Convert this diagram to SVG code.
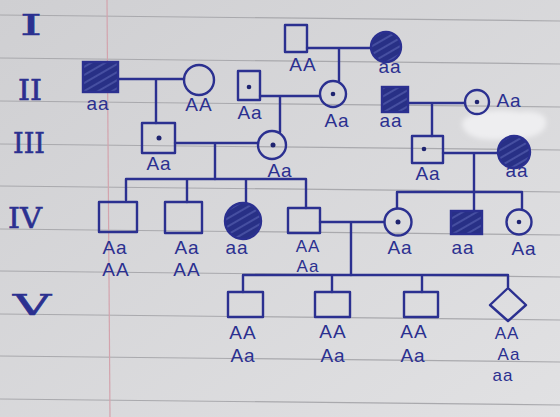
<svg xmlns="http://www.w3.org/2000/svg" width="560" height="417" viewBox="0 0 560 417">
<defs>
<linearGradient id="paper" x1="0" y1="0" x2="1" y2="1">
<stop offset="0" stop-color="#cfcfd2"/>
<stop offset="1" stop-color="#e1e1e3"/>
</linearGradient>
<pattern id="hatch" patternUnits="userSpaceOnUse" width="7" height="7" patternTransform="rotate(-30)">
<rect width="7" height="7" fill="#283086"/>
<line x1="0" y1="2" x2="7" y2="2" stroke="#5a63b4" stroke-width="1.2"/>
</pattern>
<filter id="soft" x="-20%" y="-40%" width="140%" height="180%"><feGaussianBlur stdDeviation="2.5"/></filter>
<style>
.rule{stroke:#a9a9ad;stroke-width:1.2}
.margin{stroke:#d3a3ad;stroke-width:1.2}
.ink{fill:none;stroke:#2b3090;stroke-width:2.4;stroke-linejoin:round;stroke-linecap:round}
.fill{fill:url(#hatch);stroke:#2b3090;stroke-width:2.4}
.dot{fill:#1f2470}
.lbl{font-family:"Liberation Sans",Arial,sans-serif;font-size:19px;fill:#2b3090;text-anchor:middle;letter-spacing:1px}
.sm{font-size:17px}
.gen{font-family:"DejaVu Serif","Liberation Serif",serif;font-size:28px;fill:#2b3090;stroke:#2b3090;stroke-width:0.6}
</style>
</defs>
<rect width="560" height="417" fill="url(#paper)"/>
<g id="paper-lines">
<line class="rule" x1="0" y1="15" x2="560" y2="21"/>
<line class="rule" x1="0" y1="58" x2="560" y2="64"/>
<line class="rule" x1="0" y1="101" x2="560" y2="107"/>
<line class="rule" x1="0" y1="144" x2="560" y2="150"/>
<line class="rule" x1="0" y1="186" x2="560" y2="192"/>
<line class="rule" x1="0" y1="229" x2="560" y2="235"/>
<line class="rule" x1="0" y1="271" x2="560" y2="277"/>
<line class="rule" x1="0" y1="314" x2="560" y2="320"/>
<line class="rule" x1="0" y1="356" x2="560" y2="362"/>
<line class="rule" x1="0" y1="399" x2="560" y2="405"/>
<line class="margin" x1="107" y1="0" x2="110" y2="417"/>
</g>
<path d="M462 122 C470 110 500 108 520 112 C535 110 548 114 546 124 C545 134 530 140 505 139 C485 142 462 138 462 122 Z" fill="#eeeef0" filter="url(#soft)"/>
<g id="generations">
<text class="gen" x="20" y="35" textLength="22" lengthAdjust="spacingAndGlyphs">I</text>
<text class="gen" x="18" y="100" textLength="24" lengthAdjust="spacingAndGlyphs">II</text>
<text class="gen" x="13" y="153" textLength="32" lengthAdjust="spacingAndGlyphs">III</text>
<text class="gen" x="8" y="228" textLength="34" lengthAdjust="spacingAndGlyphs">IV</text>
<text class="gen" x="13" y="315" textLength="38" lengthAdjust="spacingAndGlyphs">V</text>
</g>
<g id="connectors">
<path class="ink" d="M307 48 H371 M339 48 V81"/>
<path class="ink" d="M118 79 H184 M156 79 V123"/>
<path class="ink" d="M260 96 H320 M280 96 V132"/>
<path class="ink" d="M408 103 H465 M432 103 V136"/>
<path class="ink" d="M175 143 H258 M215 143 V179"/>
<path class="ink" d="M126 200 V179 H306 V208 M187 179 V202 M246 179 V203"/>
<path class="ink" d="M443 153 H498 M474 153 V211 M397 208 V192 H522 V209"/>
<path class="ink" d="M320 222 H384 M351 222 V275"/>
<path class="ink" d="M243 292 V275 H508 V287 M332 275 V292 M422 275 V292"/>
</g>
<g id="I-1"><rect class="ink" x="285" y="25" width="22" height="27"/><text class="lbl" x="303" y="71">AA</text></g>
<g id="I-2"><circle class="fill" cx="386" cy="47" r="15"/><text class="lbl" x="390" y="73">aa</text></g>
<g id="II-1"><rect class="fill" x="83" y="62" width="35" height="30"/><text class="lbl" x="98" y="110">aa</text></g>
<g id="II-2"><circle class="ink" cx="199" cy="80" r="15"/><text class="lbl" x="199" y="111">AA</text></g>
<g id="II-3"><rect class="ink" x="238" y="71" width="22" height="29"/><circle class="dot" cx="249" cy="87" r="2.3"/><text class="lbl" x="250" y="119">Aa</text></g>
<g id="II-4"><circle class="ink" cx="333" cy="94" r="13"/><circle class="dot" cx="333" cy="94" r="2.3"/><text class="lbl" x="337" y="127">Aa</text></g>
<g id="II-5"><rect class="fill" x="382" y="87" width="26" height="25"/><text class="lbl" x="391" y="127">aa</text></g>
<g id="II-6"><circle class="ink" cx="477" cy="102" r="12"/><circle class="dot" cx="477" cy="102" r="2.3"/><text class="lbl" x="509" y="107">Aa</text></g>
<g id="III-1"><rect class="ink" x="142" y="123" width="33" height="30"/><circle class="dot" cx="159" cy="138" r="2.5"/><text class="lbl" x="159" y="170">Aa</text></g>
<g id="III-2"><circle class="ink" cx="272" cy="145" r="14"/><circle class="dot" cx="273" cy="145" r="2.5"/><text class="lbl" x="280" y="177">Aa</text></g>
<g id="III-3"><rect class="ink" x="412" y="136" width="31" height="27"/><circle class="dot" cx="424" cy="149" r="2.3"/><text class="lbl" x="428" y="180">Aa</text></g>
<g id="III-4"><circle class="fill" cx="514" cy="152" r="16"/><text class="lbl" x="517" y="177">aa</text></g>
<g id="IV-1"><rect class="ink" x="99" y="202" width="38" height="30"/><text class="lbl" x="115" y="254">Aa</text><text class="lbl" x="116" y="276">AA</text></g>
<g id="IV-2"><rect class="ink" x="165" y="202" width="37" height="31"/><text class="lbl" x="187" y="254">Aa</text><text class="lbl" x="187" y="276">AA</text></g>
<g id="IV-3"><circle class="fill" cx="243" cy="221" r="18"/><text class="lbl" x="237" y="254">aa</text></g>
<g id="IV-4"><rect class="ink" x="288" y="208" width="32" height="25"/><text class="lbl sm" x="308" y="252">AA</text><text class="lbl sm" x="308" y="272">Aa</text></g>
<g id="IV-5"><circle class="ink" cx="398" cy="222" r="13.5"/><circle class="dot" cx="398" cy="222" r="2.5"/><text class="lbl" x="400" y="254">Aa</text></g>
<g id="IV-6"><rect class="fill" x="451" y="211" width="31" height="23"/><text class="lbl" x="463" y="254">aa</text></g>
<g id="IV-7"><circle class="ink" cx="519" cy="222" r="12.5"/><circle class="dot" cx="519" cy="222" r="2.3"/><text class="lbl" x="524" y="255">Aa</text></g>
<g id="V-1"><rect class="ink" x="228" y="292" width="35" height="25"/><text class="lbl" x="243" y="339">AA</text><text class="lbl" x="243" y="362">Aa</text></g>
<g id="V-2"><rect class="ink" x="315" y="292" width="35" height="25"/><text class="lbl" x="333" y="338">AA</text><text class="lbl" x="333" y="362">Aa</text></g>
<g id="V-3"><rect class="ink" x="404" y="292" width="34" height="25"/><text class="lbl" x="414" y="338">AA</text><text class="lbl" x="413" y="362">Aa</text></g>
<g id="V-4"><path class="ink" d="M508 288 L526 305 L508 321 L490 305 Z"/><text class="lbl sm" x="507" y="339">AA</text><text class="lbl sm" x="509" y="360">Aa</text><text class="lbl sm" x="503" y="381">aa</text></g>
</svg>
